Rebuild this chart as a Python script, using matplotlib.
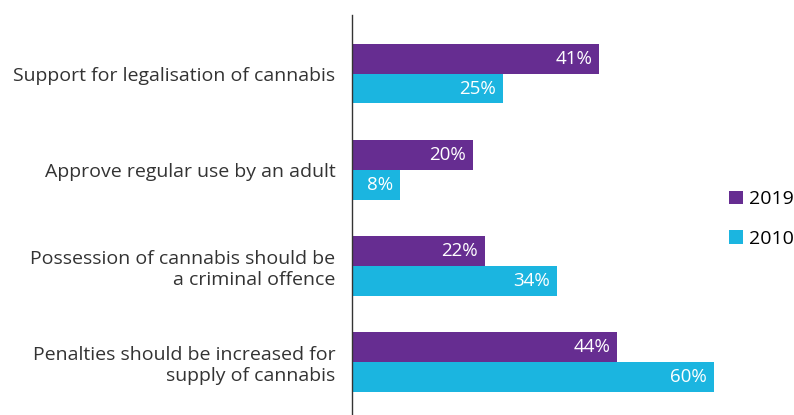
import numpy as np
import matplotlib.pyplot as plt

plt.rcParams['font.family'] = ['Open Sans', 'DejaVu Sans']

categories = ["Support for legalisation of cannabis",
              "Approve regular use by an adult",
              "Possession of cannabis should be\na criminal offence",
              "Penalties should be increased for\nsupply of cannabis"]
vals_2019 = [41, 20, 22, 44]
vals_2010 = [25, 8, 34, 60]

purple = "#662d91"
cyan = "#1bb5e0"

fig = plt.figure(figsize=(7.94, 4.15), dpi=100)
ax = fig.add_axes([352/794, 0, 368/794, 400/415])

y = np.arange(len(categories))
h = 0.31
b1 = ax.barh(y - h/2, vals_2019, height=h, color=purple, label="2019")
b2 = ax.barh(y + h/2, vals_2010, height=h, color=cyan, label="2010")

for bars, vals in [(b1, vals_2019), (b2, vals_2010)]:
    for bar, v in zip(bars, vals):
        ax.text(v - 1.2, bar.get_y() + bar.get_height()/2, f"{v}%",
                ha="right", va="center", color="white", fontsize=13.5)

ax.set_xlim(0, 61)
ax.set_ylim(3.55, -0.61)
ax.set_yticks(y)
ax.set_yticklabels(categories, fontsize=14, color="#333333", ha="right",
                   linespacing=1.2)
ax.tick_params(axis="y", length=0, pad=12)
ax.set_xticks([])
for s in ["top", "right", "bottom"]:
    ax.spines[s].set_visible(False)
ax.spines["left"].set_color("#333333")
ax.spines["left"].set_linewidth(1)

fig.legend(loc="center left", bbox_to_anchor=(729/794, 1 - 219/415),
           frameon=False, fontsize=14, handlelength=0.7, handleheight=0.7,
           handletextpad=0.35, labelspacing=1.1, borderaxespad=0, borderpad=0)

fig.savefig("out.png", dpi=100)
